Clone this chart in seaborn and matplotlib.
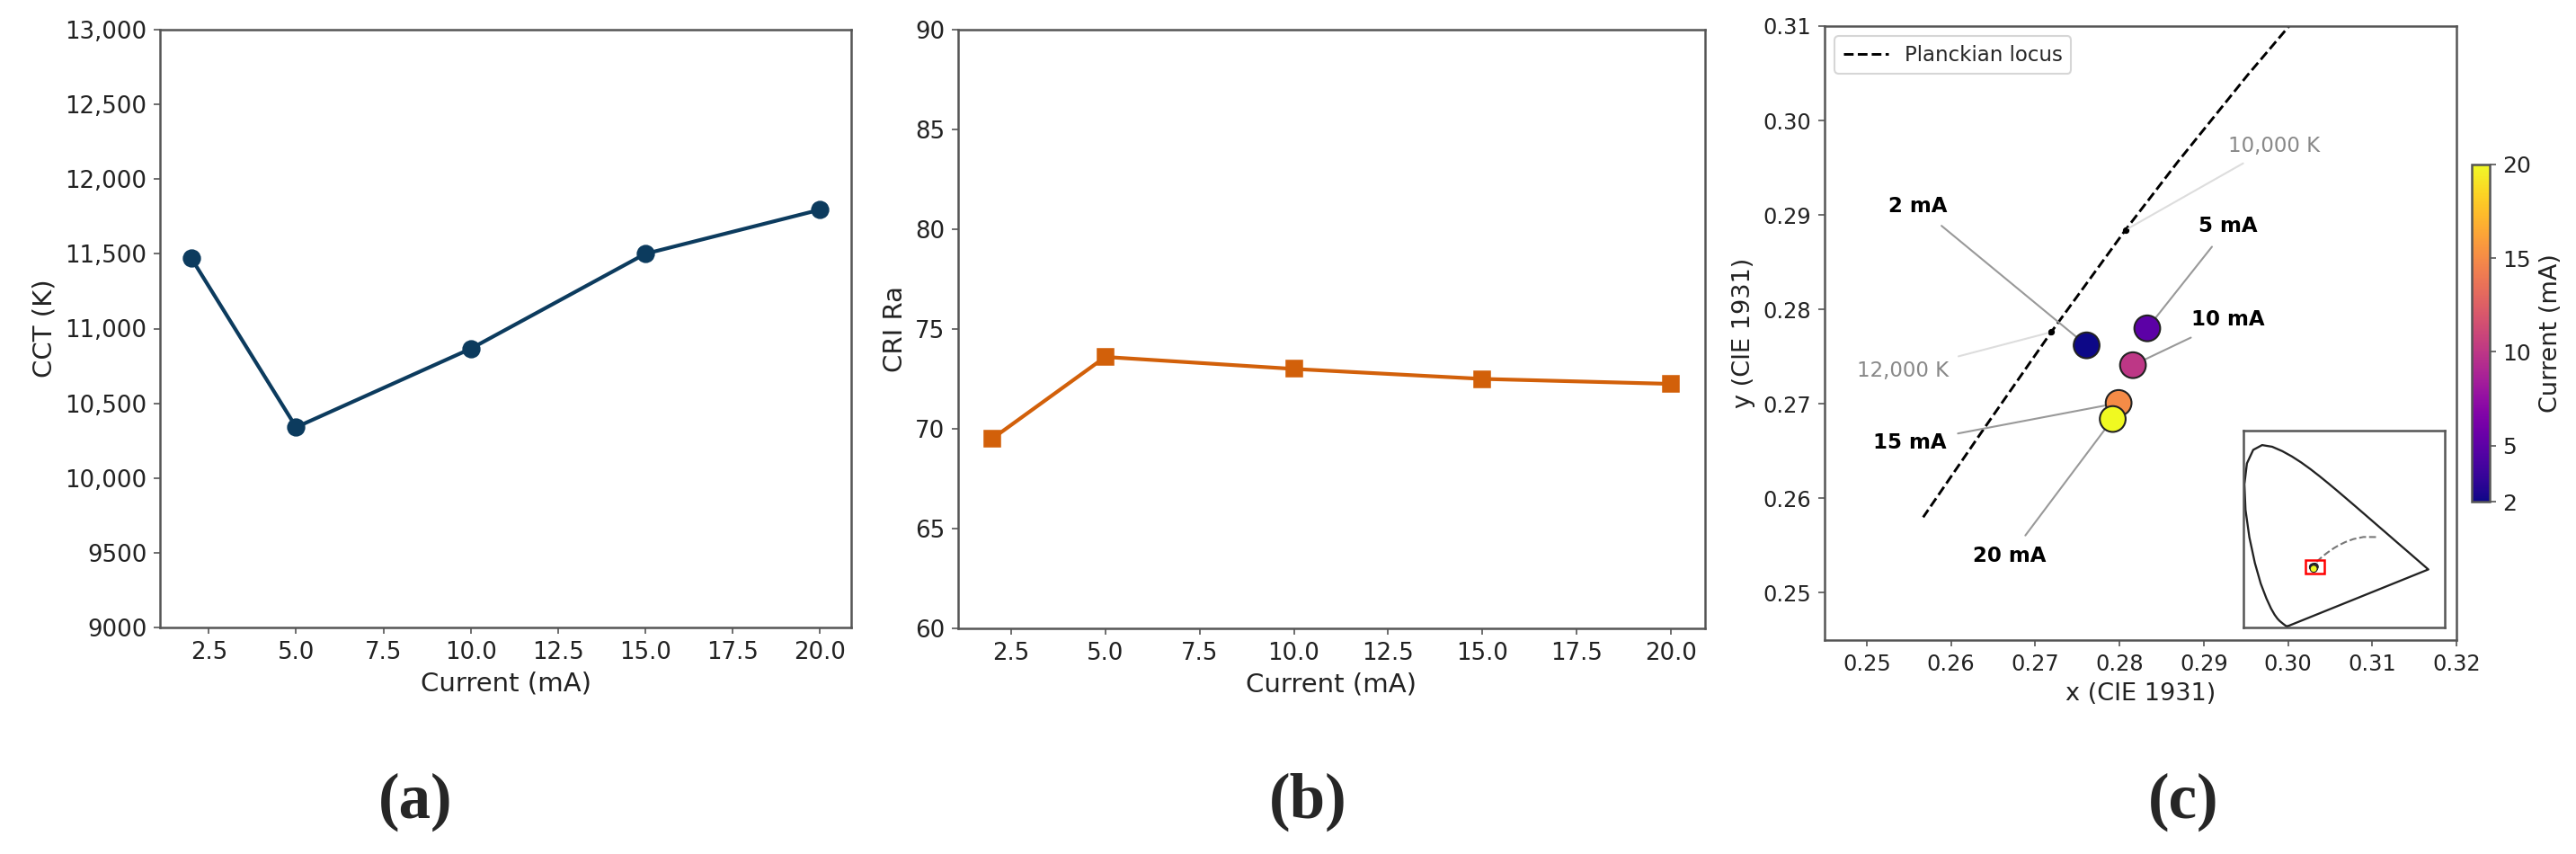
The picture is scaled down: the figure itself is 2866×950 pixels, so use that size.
import matplotlib
matplotlib.use("Agg")
import matplotlib.pyplot as plt
import seaborn as sns
import numpy as np
from matplotlib.colors import Normalize
from matplotlib.cm import ScalarMappable
from matplotlib.patches import Rectangle
from matplotlib.ticker import FuncFormatter, FixedLocator

# ---------------- data ----------------
current_ma = [2, 5, 10, 15, 20]
cct_k = [11470, 10340, 10865, 11500, 11795]
cri_ra = [69.5, 73.6, 73.0, 72.5, 72.25]

cie_x = [0.2761, 0.2833, 0.2816, 0.2799, 0.2792]
cie_y = [0.2762, 0.2780, 0.2741, 0.2701, 0.2684]
point_labels = ["2 mA", "5 mA", "10 mA", "15 mA", "20 mA"]
label_x = [0.2561, 0.2929, 0.2929, 0.2551, 0.2670]
label_y = [0.2909, 0.2888, 0.2789, 0.2659, 0.2539]

locus_cct = [2000, 2500, 3000, 3500, 4000, 4500, 5000, 5500, 6000, 6500,
             7000, 8000, 9000, 10000, 12000, 15000, 20000]
locus_x = [0.5267, 0.4770, 0.4369, 0.4053, 0.3805, 0.3608, 0.3451, 0.3325,
           0.3221, 0.3135, 0.3064, 0.2952, 0.2869, 0.2807, 0.2719, 0.2637, 0.2567]
locus_y = [0.4133, 0.4137, 0.4041, 0.3907, 0.3768, 0.3636, 0.3516, 0.3411,
           0.3318, 0.3236, 0.3166, 0.3048, 0.2956, 0.2884, 0.2776, 0.2671, 0.2580]
cct_marks = [10000, 12000]
cct_mark_labels = ["10,000 K", "12,000 K"]
cct_label_x = [0.2983, 0.2543]
cct_label_y = [0.2973, 0.2735]

spectral_x = [0.1741, 0.1733, 0.1714, 0.1689, 0.1644, 0.1566, 0.1440, 0.1355,
              0.1241, 0.1096, 0.0913, 0.0687, 0.0454, 0.0235, 0.0082, 0.0039,
              0.0139, 0.0389, 0.0743, 0.1142, 0.1547, 0.1929, 0.2296, 0.2658,
              0.3016, 0.3373, 0.3731, 0.4087, 0.4441, 0.4788, 0.5125, 0.5448,
              0.5752, 0.6029, 0.6270, 0.6658, 0.6915, 0.7079, 0.7190, 0.7260,
              0.7300, 0.7334, 0.7347]
spectral_y = [0.0050, 0.0048, 0.0051, 0.0069, 0.0109, 0.0177, 0.0297, 0.0399,
              0.0578, 0.0868, 0.1327, 0.2007, 0.2950, 0.4127, 0.5384, 0.6548,
              0.7502, 0.8120, 0.8338, 0.8262, 0.8059, 0.7816, 0.7543, 0.7243,
              0.6923, 0.6589, 0.6245, 0.5896, 0.5547, 0.5202, 0.4866, 0.4544,
              0.4242, 0.3965, 0.3725, 0.3340, 0.3083, 0.2920, 0.2809, 0.2740,
              0.2700, 0.2666, 0.2653]

# ---------------- style ----------------
sns.set_style("ticks")
plt.rcParams['font.family'] = ['DejaVu Sans']
plt.rcParams['axes.edgecolor'] = '#555555'
plt.rcParams['axes.linewidth'] = 1.2
plt.rcParams['xtick.color'] = '#555555'
plt.rcParams['ytick.color'] = '#555555'
plt.rcParams['xtick.labelcolor'] = '#222222'
plt.rcParams['ytick.labelcolor'] = '#222222'
plt.rcParams['axes.labelcolor'] = '#222222'

W, H = 2866, 950
DPI = 150
fig = plt.figure(figsize=(W / DPI, H / DPI), dpi=DPI)


def px_axes(x0, y0, x1, y1):
    return fig.add_axes([x0 / W, 1 - y1 / H, (x1 - x0) / W, (y1 - y0) / H])


navy = '#0c3b5e'
orange = '#D2600A'

# ---------------- (a) CCT ----------------
ax_a = px_axes(178, 33, 947, 698)
sns.lineplot(x=current_ma, y=cct_k, ax=ax_a, color=navy, marker='o',
             markersize=9, linewidth=2, markeredgecolor=navy)
ax_a.set_ylim(9000, 13000)
ax_a.yaxis.set_major_locator(FixedLocator(np.arange(9000, 13001, 500)))
ax_a.yaxis.set_major_formatter(FuncFormatter(
    lambda v, p: f"{v:,.0f}" if v >= 10000 else f"{v:.0f}"))
ax_a.set_xticks([2.5, 5, 7.5, 10, 12.5, 15, 17.5, 20])
ax_a.set_xlim(1.1, 20.9)
ax_a.tick_params(labelsize=12.5)
ax_a.set_xlabel("Current (mA)", fontsize=14)
ax_a.set_ylabel("CCT (K)", fontsize=14)

# ---------------- (b) CRI ----------------
ax_b = px_axes(1066, 33, 1897, 699)
sns.lineplot(x=current_ma, y=cri_ra, ax=ax_b, color=orange, marker='s',
             markersize=9, linewidth=2, markeredgecolor=orange)
ax_b.set_ylim(60, 90)
ax_b.set_yticks(np.arange(60, 91, 5))
ax_b.set_xticks([2.5, 5, 7.5, 10, 12.5, 15, 17.5, 20])
ax_b.set_xlim(1.1, 20.9)
ax_b.tick_params(labelsize=12.5)
ax_b.set_xlabel("Current (mA)", fontsize=14)
ax_b.set_ylabel("CRI Ra", fontsize=14)

# ---------------- (c) CIE ----------------
ax_c = px_axes(2030, 29, 2733, 712)
norm = Normalize(vmin=2, vmax=20)
cmap = plt.get_cmap('plasma')

ax_c.plot(locus_x, locus_y, color='black', ls='--', lw=1.4,
          label='Planckian locus', zorder=2)
for cct, lbl, tx, ty in zip(cct_marks, cct_mark_labels, cct_label_x, cct_label_y):
    i = locus_cct.index(cct)
    ax_c.plot([locus_x[i]], [locus_y[i]], 'o', color='black', markersize=2.5, zorder=3)
    ax_c.annotate(lbl, xy=(locus_x[i], locus_y[i]), xytext=(tx, ty),
                  fontsize=11, color='#888888', ha='center', va='center',
                  arrowprops=dict(arrowstyle='-', color='#dddddd', lw=1,
                                  shrinkA=3, shrinkB=2))

sns.scatterplot(x=cie_x, y=cie_y, hue=current_ma, palette='plasma',
                hue_norm=(2, 20), s=190, edgecolor='#222222', linewidth=1,
                ax=ax_c, legend=False, zorder=4)

for lbl, px, py, tx, ty in zip(point_labels, cie_x, cie_y, label_x, label_y):
    ax_c.annotate(lbl, xy=(px, py), xytext=(tx, ty), fontsize=11,
                  fontweight='bold', color='black', ha='center', va='center',
                  arrowprops=dict(arrowstyle='-', color='#999999', lw=1,
                                  shrinkA=4, shrinkB=7), zorder=3)

ax_c.set_xlim(0.245, 0.32)
ax_c.set_ylim(0.245, 0.31)
ax_c.set_xticks(np.round(np.arange(0.25, 0.3201, 0.01), 2))
ax_c.set_yticks(np.round(np.arange(0.25, 0.3101, 0.01), 2))
ax_c.xaxis.set_major_formatter(FuncFormatter(lambda v, p: f"{v:.2f}"))
ax_c.yaxis.set_major_formatter(FuncFormatter(lambda v, p: f"{v:.2f}"))
ax_c.tick_params(labelsize=11.5)
ax_c.set_xlabel("x (CIE 1931)", fontsize=13)
ax_c.set_ylabel("y (CIE 1931)", fontsize=13)
ax_c.legend(loc='upper left', fontsize=11, frameon=True, edgecolor='#cccccc',
            handlelength=2.2)

# colorbar
cax = px_axes(2750, 183, 2770, 558)
cb = fig.colorbar(ScalarMappable(norm=norm, cmap=cmap), cax=cax)
cb.set_ticks([2, 5, 10, 15, 20])
cb.ax.tick_params(labelsize=12)
cb.set_label("Current (mA)", fontsize=13)
cb.outline.set_edgecolor('#555555')

# inset full diagram
ax_in = px_axes(2496, 479, 2720, 698)
ax_in.plot(spectral_x + [spectral_x[0]], spectral_y + [spectral_y[0]],
           color='#222222', lw=1.1)
ax_in.plot(locus_x, locus_y, color='#777777', ls='--', lw=1)
sns.scatterplot(x=cie_x, y=cie_y, hue=current_ma, palette='plasma',
                hue_norm=(2, 20), s=14, edgecolor='#222222', linewidth=0.5,
                ax=ax_in, legend=False, zorder=4)
ax_in.add_patch(Rectangle((0.245, 0.245), 0.075, 0.065, fill=False,
                          edgecolor='red', lw=1.2, zorder=5))
ax_in.set_xlim(0, 0.8)
ax_in.set_ylim(0, 0.9)
ax_in.set_xticks([])
ax_in.set_yticks([])
ax_in.set_xlabel("")
ax_in.set_ylabel("")

# panel letters
for lbl, xc in zip(["(a)", "(b)", "(c)"], [462, 1455, 2429]):
    fig.text(xc / W, 1 - 892 / H, lbl, ha='center', va='center', fontsize=34,
             fontweight='bold', family=['Liberation Serif', 'DejaVu Serif'])

fig.savefig("out.png", dpi=DPI)
